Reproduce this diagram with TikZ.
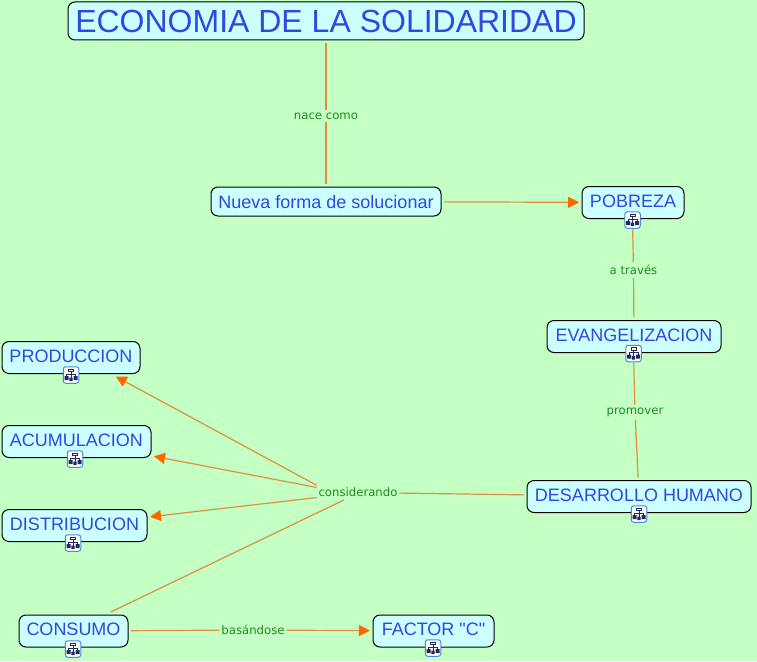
\documentclass[tikz,border=0pt]{standalone}
\usepackage{fontspec}
\newfontfamily\conceptfont{Liberation Sans}
\newfontfamily\linkfont{DejaVu Sans}
\usetikzlibrary{arrows.meta}
\definecolor{pagegreen}{HTML}{C4FFC4}
\definecolor{boxcyan}{HTML}{CCFFFF}
\definecolor{textblue}{HTML}{3346E0}
\definecolor{linkgreen}{HTML}{1E8C1E}
\definecolor{linkline}{HTML}{E08E40}
\definecolor{tiporange}{HTML}{FF6600}
\definecolor{iconblue}{HTML}{4A88D0}
\definecolor{icondark}{HTML}{1E2A60}
\tikzset{
    concept/.style={draw=black,fill=boxcyan,rounded corners=7,line width=1pt,
        text=textblue,font=\conceptfont\fontsize{18}{20}\selectfont,inner sep=0,outer sep=3pt,
        text height=13pt,text depth=4pt},
    linktext/.style={text=linkgreen,font=\linkfont\fontsize{11.7}{13}\selectfont,
        inner xsep=2pt,inner ysep=3pt,outer sep=0},
    iconbox/.style={draw=iconblue,fill=white,rounded corners=2.5,line width=1pt,
        minimum width=15.5pt,minimum height=16.5pt,inner sep=0,outer sep=1pt},
    link/.style={draw=linkline,line width=1.2pt},
    linkto/.style={link,-{Triangle[length=11pt,width=11pt,color=tiporange]}}
}
\begin{document}
\begin{tikzpicture}[x=1pt,y=-1pt]
\path[fill=pagegreen,use as bounding box] (0,0) rectangle (757,661);

\node[concept,minimum width=516pt,minimum height=38pt,text height=23pt,text depth=0pt,
    font=\conceptfont\fontsize{32}{36}\selectfont] (economia) at (326,21)
    {ECONOMIA DE LA SOLIDARIDAD};
\node[concept,minimum width=230pt,minimum height=29pt,text depth=0pt] (nueva) at (326,201.5) {Nueva forma de solucionar};
\node[concept,minimum width=102pt,minimum height=32pt] (pobreza) at (633,202.5) {POBREZA};
\node[concept,minimum width=174pt,minimum height=32pt] (evangelizacion) at (634,336.5) {EVANGELIZACION};
\node[concept,minimum width=224pt,minimum height=32pt] (desarrollo) at (639,496.5) {DESARROLLO HUMANO};
\node[concept,minimum width=138pt,minimum height=32pt] (produccion) at (71,357.5) {PRODUCCION};
\node[concept,minimum width=149pt,minimum height=32pt] (acumulacion) at (76.5,441.5) {ACUMULACION};
\node[concept,minimum width=145pt,minimum height=32pt] (distribucion) at (74.5,525.5) {DISTRIBUCION};
\node[concept,minimum width=109pt,minimum height=32pt] (consumo) at (73.5,631) {CONSUMO};
\node[concept,minimum width=121pt,minimum height=32pt] (factor) at (433.5,631) {FACTOR "C"};

\foreach \name/\x/\y in {iconpobreza/632.5/220,iconevangelizacion/633.5/353.5,
    icondesarrollo/639/514,iconproduccion/71/375,iconacumulacion/75/459,
    icondistribucion/73/543,iconconsumo/73/649,iconfactor/433/648}
{
    \node[iconbox] (\name) at (\x,\y) {};
    \draw[icondark,line width=.7pt,shift={(\x,\y)}]
        (-2.5,-6) rectangle (2.5,-3.5)
        (0,-3.5) -- (0,2.5) (-4.5,1) -- (-4.5,-1) -- (4.5,-1) -- (4.5,1);
    \fill[icondark,shift={(\x,\y)}]
        (-6.5,1) rectangle (-2.5,5)
        (-1.7,2.5) rectangle (1.7,6)
        (2.5,1) rectangle (6.5,5);
}

\node[linktext] (nace)         at (326,116)   {nace como};
\node[linktext] (traves)       at (633.5,270) {a través};
\node[linktext] (promover)     at (635,412)   {promover};
\node[linktext] (considerando) at (358,492.5) {considerando};
\node[linktext] (basandose)    at (253,630)   {basándose};

\draw[link]   (economia) -- (nace);
\draw[link]   (nace) -- (nueva);
\draw[linkto] (nueva) -- (pobreza);
\draw[link]   (iconpobreza) -- (traves);
\draw[link]   (traves) -- (evangelizacion);
\draw[link]   (iconevangelizacion) -- (promover);
\draw[link]   (promover) -- (desarrollo);
\draw[link]   (desarrollo) -- (considerando);
\draw[linkto] (considerando.170) -- (produccion.-23);
\draw[linkto] (considerando.173) -- (acumulacion);
\draw[linkto] (considerando.187) -- (distribucion);
\draw[link]   (consumo.27.5) -- (considerando.208);
\draw[link]   (consumo) -- (basandose);
\draw[linkto] (basandose) -- (factor);
\end{tikzpicture}
\end{document}
